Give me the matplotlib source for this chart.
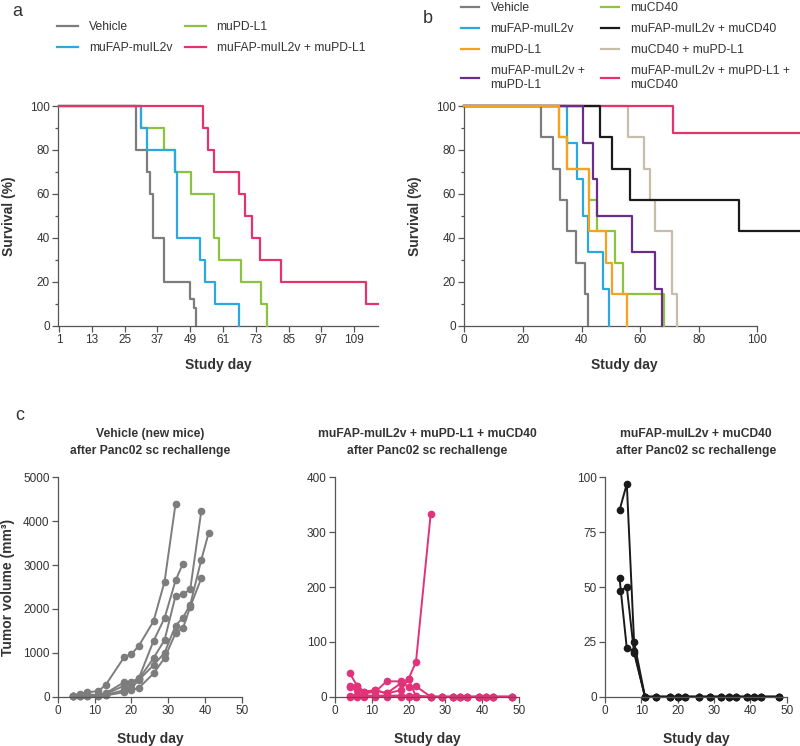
import matplotlib
matplotlib.use("Agg")
import matplotlib.pyplot as plt
from matplotlib.ticker import MultipleLocator

plt.rcParams["font.family"] = ["Liberation Sans", "DejaVu Sans"]

# ---------------- panel a: survival ----------------
vehicle_a_days = [1, 29, 33, 34.2, 35.3, 39.5, 49, 50.3, 51.2]
vehicle_a_surv = [100, 80, 70, 60, 40, 20, 12, 8, 0]
fap_a_days = [1, 31, 33, 43.5, 44.2, 52.4, 54.3, 58, 66.8]
fap_a_surv = [100, 90, 80, 70, 40, 30, 20, 10, 0]
pdl1_a_days = [1, 31, 39.5, 43.5, 49.4, 57.5, 59.6, 67.7, 74.9, 76.9]
pdl1_a_surv = [100, 90, 80, 70, 60, 40, 30, 20, 10, 0]
combo_a_days = [1, 53.8, 55.6, 57.6, 66.8, 69, 71.7, 74.6, 82.2, 113.3, 117.8]
combo_a_surv = [100, 90, 80, 70, 60, 50, 40, 30, 20, 10, 10]
a_xticks = list(range(1, 110, 12))

# ---------------- panel b: survival ----------------
vehicle_b_days = [0, 26.0, 30.1, 32.6, 34.9, 38.1, 41.2, 42.3]
vehicle_b_surv = [100, 85.7, 71.4, 57.1, 42.9, 28.6, 14.3, 0]
fap_b_days = [0, 35.2, 38.3, 40.6, 42.3, 47.2, 49.4]
fap_b_surv = [100, 83.3, 66.7, 50, 33.3, 16.7, 0]
pdl1_b_days = [0, 32.4, 35.1, 42.6, 48.5, 50.3, 55.5]
pdl1_b_surv = [100, 85.7, 71.4, 42.9, 28.6, 14.3, 0]
fap_pdl1_b_days = [0, 40.4, 44.0, 45.1, 57.2, 65.0, 67.3]
fap_pdl1_b_surv = [100, 83.3, 66.7, 50, 33.3, 16.7, 0]
cd40_b_days = [0, 32.4, 35.1, 42.6, 45.1, 51.4, 54.1, 68.2]
cd40_b_surv = [100, 85.7, 71.4, 57.1, 42.9, 28.6, 14.3, 0]
fap_cd40_b_days = [0, 46.3, 50.3, 56.5, 93.6, 114]
fap_cd40_b_surv = [100, 85.7, 71.4, 57.1, 42.9, 42.9]
cd40_pdl1_b_days = [0, 55.9, 61.3, 63.3, 65.0, 71.0, 72.4]
cd40_pdl1_b_surv = [100, 85.7, 71.4, 57.1, 42.9, 14.3, 0]
triple_b_days = [0, 71.3, 114]
triple_b_surv = [100, 87.5, 87.5]

# ---------------- panel c: tumor volumes ----------------
veh_c_days = [4, 6, 8, 11, 13, 18, 20, 22, 26, 29, 32, 34, 36, 39, 41]
veh_c_mice = [
    [20, 70, 100, 130, 270, 900, 970, 1160, 1720, 2620, 4400],
    [10, 40, 50, 40, 80, 330, 340, 420, 1270, 1790, 2650, 3030],
    [5, 20, 30, 30, 60, 250, 300, 400, 880, 1290, 2300, 2330, 2450, 4230],
    [5, 15, 20, 20, 40, 150, 200, 380, 720, 1000, 1620, 1800, 2100, 3120, 3730],
    [5, 10, 15, 15, 30, 100, 150, 200, 530, 880, 1450, 1560, 2050, 2700],
]
re_c_days = [4, 6, 8, 11, 14, 18, 20, 22, 26, 29, 32, 34, 36, 39, 41, 43, 48]
triple_c_mice = [
    [43, 20, 9, 12, 6, 25, 33, 63, 333],
    [20, 20, 6, 9, 28, 28, 17, 19, 0, 0, 0, 0, 0, 0, 0, 0, 0],
    [17, 13, 9, 12, 6, 12, 33, 0, 0, 0, 0, 0, 0, 0, 0, 0, 0],
    [2, 3, 2, 2, 2, 2, 2, 2, 0, 0, 0, 0, 0, 0, 0, 0, 0],
    [0, 0, 0, 0, 0, 0, 0, 0, 0, 0, 0, 0, 0, 0, 0, 0, 0],
]
fapcd40_c_mice = [
    [85, 97, 25, 0, 0, 0, 0, 0, 0, 0, 0, 0, 0, 0, 0, 0, 0],
    [54, 22, 21, 0, 0, 0, 0, 0, 0, 0, 0, 0, 0, 0, 0, 0, 0],
    [48, 50, 20, 0, 0, 0, 0, 0, 0, 0, 0, 0, 0, 0, 0, 0, 0],
]

GREY = "#7d7d7d"
BLUE = "#2aa8df"
GREEN = "#8cc43f"
RED = "#e5336b"
ORANGE = "#f5a21f"
PURPLE = "#6a2d8a"
BLACK = "#1a1a1a"
TAN = "#c6beaa"
PINK = "#e2337a"
SPINE = "#555555"
TXT = "#333333"
LABEL_FS = 10

W, H = 800, 746
fig = plt.figure(figsize=(W / 100, H / 100), dpi=100)


def px_axes(x0, x1, y_top, y_bot):
    return fig.add_axes([x0 / W, 1 - y_bot / H, (x1 - x0) / W, (y_bot - y_top) / H])


def style(ax, minor_y=None):
    for s in ["top", "right"]:
        ax.spines[s].set_visible(False)
    for s in ["left", "bottom"]:
        ax.spines[s].set_color(SPINE)
        ax.spines[s].set_linewidth(0.9)
    ax.tick_params(direction="out", length=4, width=0.9, color=SPINE,
                   labelcolor=TXT, labelsize=8.5, pad=2)
    if minor_y:
        ax.yaxis.set_minor_locator(MultipleLocator(minor_y))
        ax.tick_params(which="minor", axis="y", length=2.5, width=0.9, color=SPINE)


def surv(ax, d, s, c, z):
    return ax.step(d, s, where="post", color=c, lw=1.6, zorder=z, clip_on=False)[0]


# ---- a ----
ax_a = px_axes(58.3, 378.3, 106, 325.5)
h_veh = surv(ax_a, vehicle_a_days, vehicle_a_surv, GREY, 2)
h_pd = surv(ax_a, pdl1_a_days, pdl1_a_surv, GREEN, 3)
h_fap = surv(ax_a, fap_a_days, fap_a_surv, BLUE, 4)
h_combo = surv(ax_a, combo_a_days, combo_a_surv, RED, 5)
ax_a.set_xlim(0.7, 117.8)
ax_a.set_ylim(0, 100)
ax_a.set_xticks(a_xticks)
ax_a.set_yticks(range(0, 101, 20))
style(ax_a, minor_y=10)
ax_a.set_ylabel("Survival (%)", fontsize=LABEL_FS, fontweight="bold", color=TXT, labelpad=10)
ax_a.set_xlabel("Study day", fontsize=LABEL_FS, fontweight="bold", color=TXT, labelpad=9)

fig.legend([h_veh, h_fap, h_pd, h_combo],
           ["Vehicle", "muFAP-muIL2v", "muPD-L1", "muFAP-muIL2v + muPD-L1"],
           loc="upper left", bbox_to_anchor=(57 / W, 1 - 21 / H), ncol=2,
           frameon=False, fontsize=8.7, labelcolor=TXT, handlelength=1.75,
           handletextpad=0.9, columnspacing=1.0, labelspacing=0.75,
           borderaxespad=0, borderpad=0)

# ---- b ----
ax_b = px_axes(464.3, 798.5, 106, 325.5)
b_veh = surv(ax_b, vehicle_b_days, vehicle_b_surv, GREY, 2)
b_fap = surv(ax_b, fap_b_days, fap_b_surv, BLUE, 3)
b_cd40 = surv(ax_b, cd40_b_days, cd40_b_surv, GREEN, 4)
b_tan = surv(ax_b, cd40_pdl1_b_days, cd40_pdl1_b_surv, TAN, 5)
b_tri = surv(ax_b, triple_b_days, triple_b_surv, RED, 6)
b_blk = surv(ax_b, fap_cd40_b_days, fap_cd40_b_surv, BLACK, 7)
b_pur = surv(ax_b, fap_pdl1_b_days, fap_pdl1_b_surv, PURPLE, 8)
b_pd = surv(ax_b, pdl1_b_days, pdl1_b_surv, ORANGE, 9)
ax_b.set_xlim(0, 114)
ax_b.set_ylim(0, 100)
ax_b.spines["bottom"].set_bounds(0, 100)
ax_b.set_xticks(range(0, 101, 20))
ax_b.set_yticks(range(0, 101, 20))
style(ax_b, minor_y=10)
ax_b.set_ylabel("Survival (%)", fontsize=LABEL_FS, fontweight="bold", color=TXT, labelpad=10)
ax_b.set_xlabel("Study day", fontsize=LABEL_FS, fontweight="bold", color=TXT)
ax_b.xaxis.set_label_coords(54.5 / 114, -0.148)

fig.legend([b_veh, b_fap, b_pd, b_pur, b_cd40, b_blk, b_tan, b_tri],
           ["Vehicle", "muFAP-muIL2v", "muPD-L1", "muFAP-muIL2v +\nmuPD-L1",
            "muCD40", "muFAP-muIL2v + muCD40", "muCD40 + muPD-L1",
            "muFAP-muIL2v + muPD-L1 +\nmuCD40"],
           loc="upper left", bbox_to_anchor=(461 / W, 1 - 2 / H), ncol=2,
           frameon=False, fontsize=8.7, labelcolor=TXT, handlelength=1.5,
           handletextpad=0.95, columnspacing=1.35, labelspacing=0.75,
           borderaxespad=0, borderpad=0)

# ---- c ----
c_specs = [
    (58, 241.7, veh_c_days, veh_c_mice, GREY, 5000, 1000,
     "Vehicle (new mice)\nafter Panc02 sc rechallenge"),
    (335, 519, re_c_days, triple_c_mice, PINK, 400, 100,
     "muFAP-muIL2v + muPD-L1 + muCD40\nafter Panc02 sc rechallenge"),
    (605, 786.7, re_c_days, fapcd40_c_mice, BLACK, 100, 25,
     "muFAP-muIL2v + muCD40\nafter Panc02 sc rechallenge"),
]
for i, (x0, x1, days, mice, col, ymax, ystep, title) in enumerate(c_specs):
    ax = px_axes(x0, x1, 477.3, 696.7)
    for vals in mice:
        ax.plot(days[:len(vals)], vals, color=col, lw=1.4, marker="o",
                markersize=4.5, clip_on=False)
    ax.set_xlim(0, 50)
    ax.set_ylim(0, ymax)
    ax.set_xticks(range(0, 51, 10))
    ax.set_yticks(range(0, ymax + 1, ystep))
    style(ax)
    ax.set_title(title, fontsize=8.7, fontweight="bold", color=TXT, pad=17,
                 linespacing=1.55)
    ax.set_xlabel("Study day", fontsize=LABEL_FS, fontweight="bold", color=TXT, labelpad=11)
    if i == 0:
        ax.set_ylabel("Tumor volume (mm³)", fontsize=LABEL_FS, fontweight="bold",
                      color=TXT, labelpad=6)

fig.text(12 / W, 1 - 3 / H, "a", fontsize=13, va="top", color=TXT)
fig.text(423 / W, 1 - 10 / H, "b", fontsize=13, va="top", color=TXT)
fig.text(15 / W, 1 - 407 / H, "c", fontsize=13, va="top", color=TXT)

fig.savefig("out.png", dpi=100)
